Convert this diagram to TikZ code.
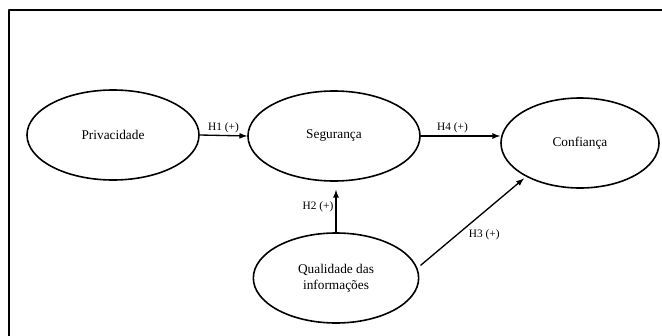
\documentclass[tikz,border=0pt]{standalone}
\usepackage{fontspec}
\setmainfont{Liberation Serif}
\usetikzlibrary{shapes.geometric}
\tikzset{
  construct/.style={draw=black,ellipse,line width=1.2pt,inner sep=0pt,font=\fontsize{10}{12}\selectfont,align=center},
  hyp/.style={->,line width=1pt},
  hyplabel/.style={font=\fontsize{8.5}{10}\selectfont,inner sep=1.5pt},
}
\begin{document}
\begin{tikzpicture}[>=latex,line join=bevel,x=0.75pt,y=-0.75pt]
    %%
    \useasboundingbox (0,0) rectangle (662,336);
    \draw [line width=0.8pt] (9,337) |- (663,10);
    %%
    \node (priv) at (113,135) [construct,minimum width=129pt,minimum height=67.5pt] {Privacidade};
    \node (seg) at (334,136) [construct,minimum width=129pt,minimum height=67.5pt] {Segurança};
    \node (conf) at (580,143) [construct,minimum width=118.5pt,minimum height=67.5pt] {Confiança};
    \node (qual) at (336,278) [construct,minimum width=124pt,minimum height=67.5pt] {Qualidade das\\informações};
    %%
    \draw [hyp] (priv.east) -- (seg.west) node [hyplabel,midway,above] {H1 (+)};
    \draw [hyp] (seg.east) -- (seg.east -| conf.west) node [hyplabel,pos=0.4,above] {H4 (+)};
    \draw [hyp,shorten >=6pt] (qual.north) -- (qual.north |- seg.south) node [hyplabel,pos=0.5,left] {H2 (+)};
    \draw [hyp,shorten <=3pt,shorten >=2pt] (qual.7) -- (conf.212) node [hyplabel,pos=0.45,below right] {H3 (+)};
    %
\end{tikzpicture}
\end{document}
